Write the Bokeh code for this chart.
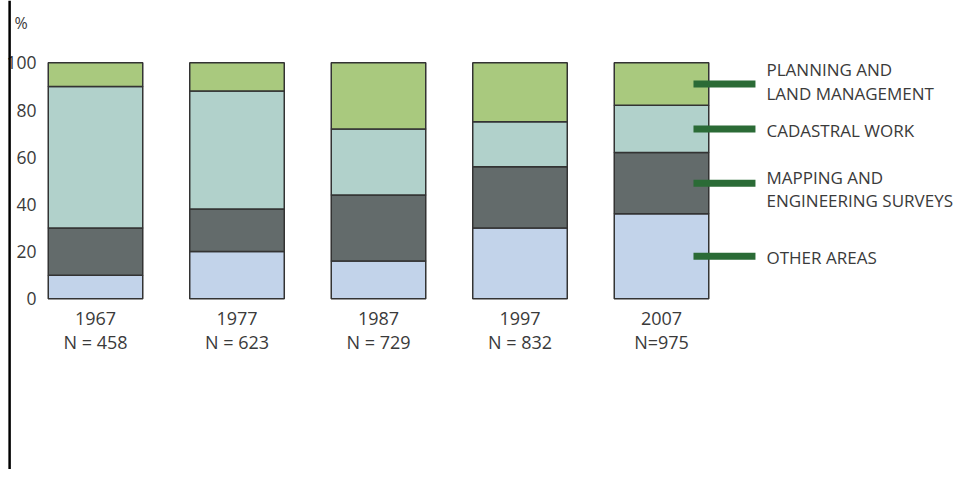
from bokeh.plotting import figure
from bokeh.models import ColumnDataSource, Span
from bokeh.core.properties import value
from bokeh.embed import file_html
from bokeh.resources import INLINE

years = ["1967", "1977", "1987", "1997", "2007"]
n_labels = ["N = 458", "N = 623", "N = 729", "N = 832", "N=975"]
other_areas = [10, 20, 16, 30, 36]
mapping = [20, 18, 28, 26, 26]
cadastral = [60, 50, 28, 19, 20]
planning = [10, 12, 28, 25, 18]
y_ticks = [0, 20, 40, 60, 80, 100]

series = ["other", "mapping", "cadastral", "planning"]
colors = ["#c2d3ea", "#636b6b", "#b1d1cb", "#a9c97e"]
legend_text = {
    "planning": ["PLANNING AND", "LAND MANAGEMENT"],
    "cadastral": ["CADASTRAL WORK"],
    "mapping": ["MAPPING AND", "ENGINEERING SURVEYS"],
    "other": ["OTHER AREAS"],
}
label_shift = {"planning": 1.0, "cadastral": -0.5, "mapping": -2.4, "other": -0.5}

FONT = value("Open Sans")
TXT = "#3a3a3a"

xs = list(range(len(years)))
src = ColumnDataSource(dict(x=xs, other=other_areas, mapping=mapping,
                            cadastral=cadastral, planning=planning))

p = figure(width=955, height=469, x_range=(-0.6714, 6.0777), y_range=(-72.33, 126.4),
           output_backend="svg", toolbar_location=None, min_border=0)
p.axis.visible = False
p.grid.visible = False
p.outline_line_color = None
p.background_fill_color = "#ffffff"
p.border_fill_color = "#ffffff"

p.vbar_stack(series, x="x", width=0.668, source=src, fill_color=colors,
             line_color="#333333", line_width=1.5)

# y tick labels
p.text(x=[-0.417] * len(y_ticks), y=y_ticks, text=[str(t) for t in y_ticks],
       text_font=FONT, text_font_size="17.5px", text_color=TXT,
       text_align="right", text_baseline="middle")
p.text(x=[-0.572], y=[116.7], text=["%"], text_font=FONT, text_font_size="16px",
       text_color=TXT, text_align="left", text_baseline="middle")

# x labels
p.text(x=xs, y=[-8.5] * len(xs), text=years, text_font=FONT, text_font_size="18px",
       text_color=TXT, text_align="center", text_baseline="middle")
p.text(x=xs, y=[-18.5] * len(xs), text=n_labels, text_font=FONT, text_font_size="18px",
       text_color=TXT, text_align="center", text_baseline="middle")

# legend pointers at midpoints of the last bar's segments
last = len(years) - 1
vals = {"other": other_areas, "mapping": mapping, "cadastral": cadastral, "planning": planning}
base = 0
mids = {}
for s in series:
    v = vals[s][last]
    mids[s] = base + v / 2
    base += v

p.segment(x0=[4.226] * 4, x1=[4.664] * 4, y0=[mids[s] for s in series],
          y1=[mids[s] for s in series], line_color="#2b6b36", line_width=7,
          line_cap="butt")

lx, ly, lt = [], [], []
for s in series:
    lines = legend_text[s]
    c = mids[s] + label_shift[s]
    if len(lines) == 1:
        offs = [0]
    else:
        offs = [5.0, -5.0]
    for t, o in zip(lines, offs):
        lx.append(4.742)
        ly.append(c + o)
        lt.append(t)
p.text(x=lx, y=ly, text=lt, text_font=FONT, text_font_size="17px", text_color=TXT,
       text_align="left", text_baseline="middle")

p.add_layout(Span(location=-0.607, dimension="height", line_color="#000000", line_width=2.5))

open("out.html", "w").write(file_html(p, INLINE))
